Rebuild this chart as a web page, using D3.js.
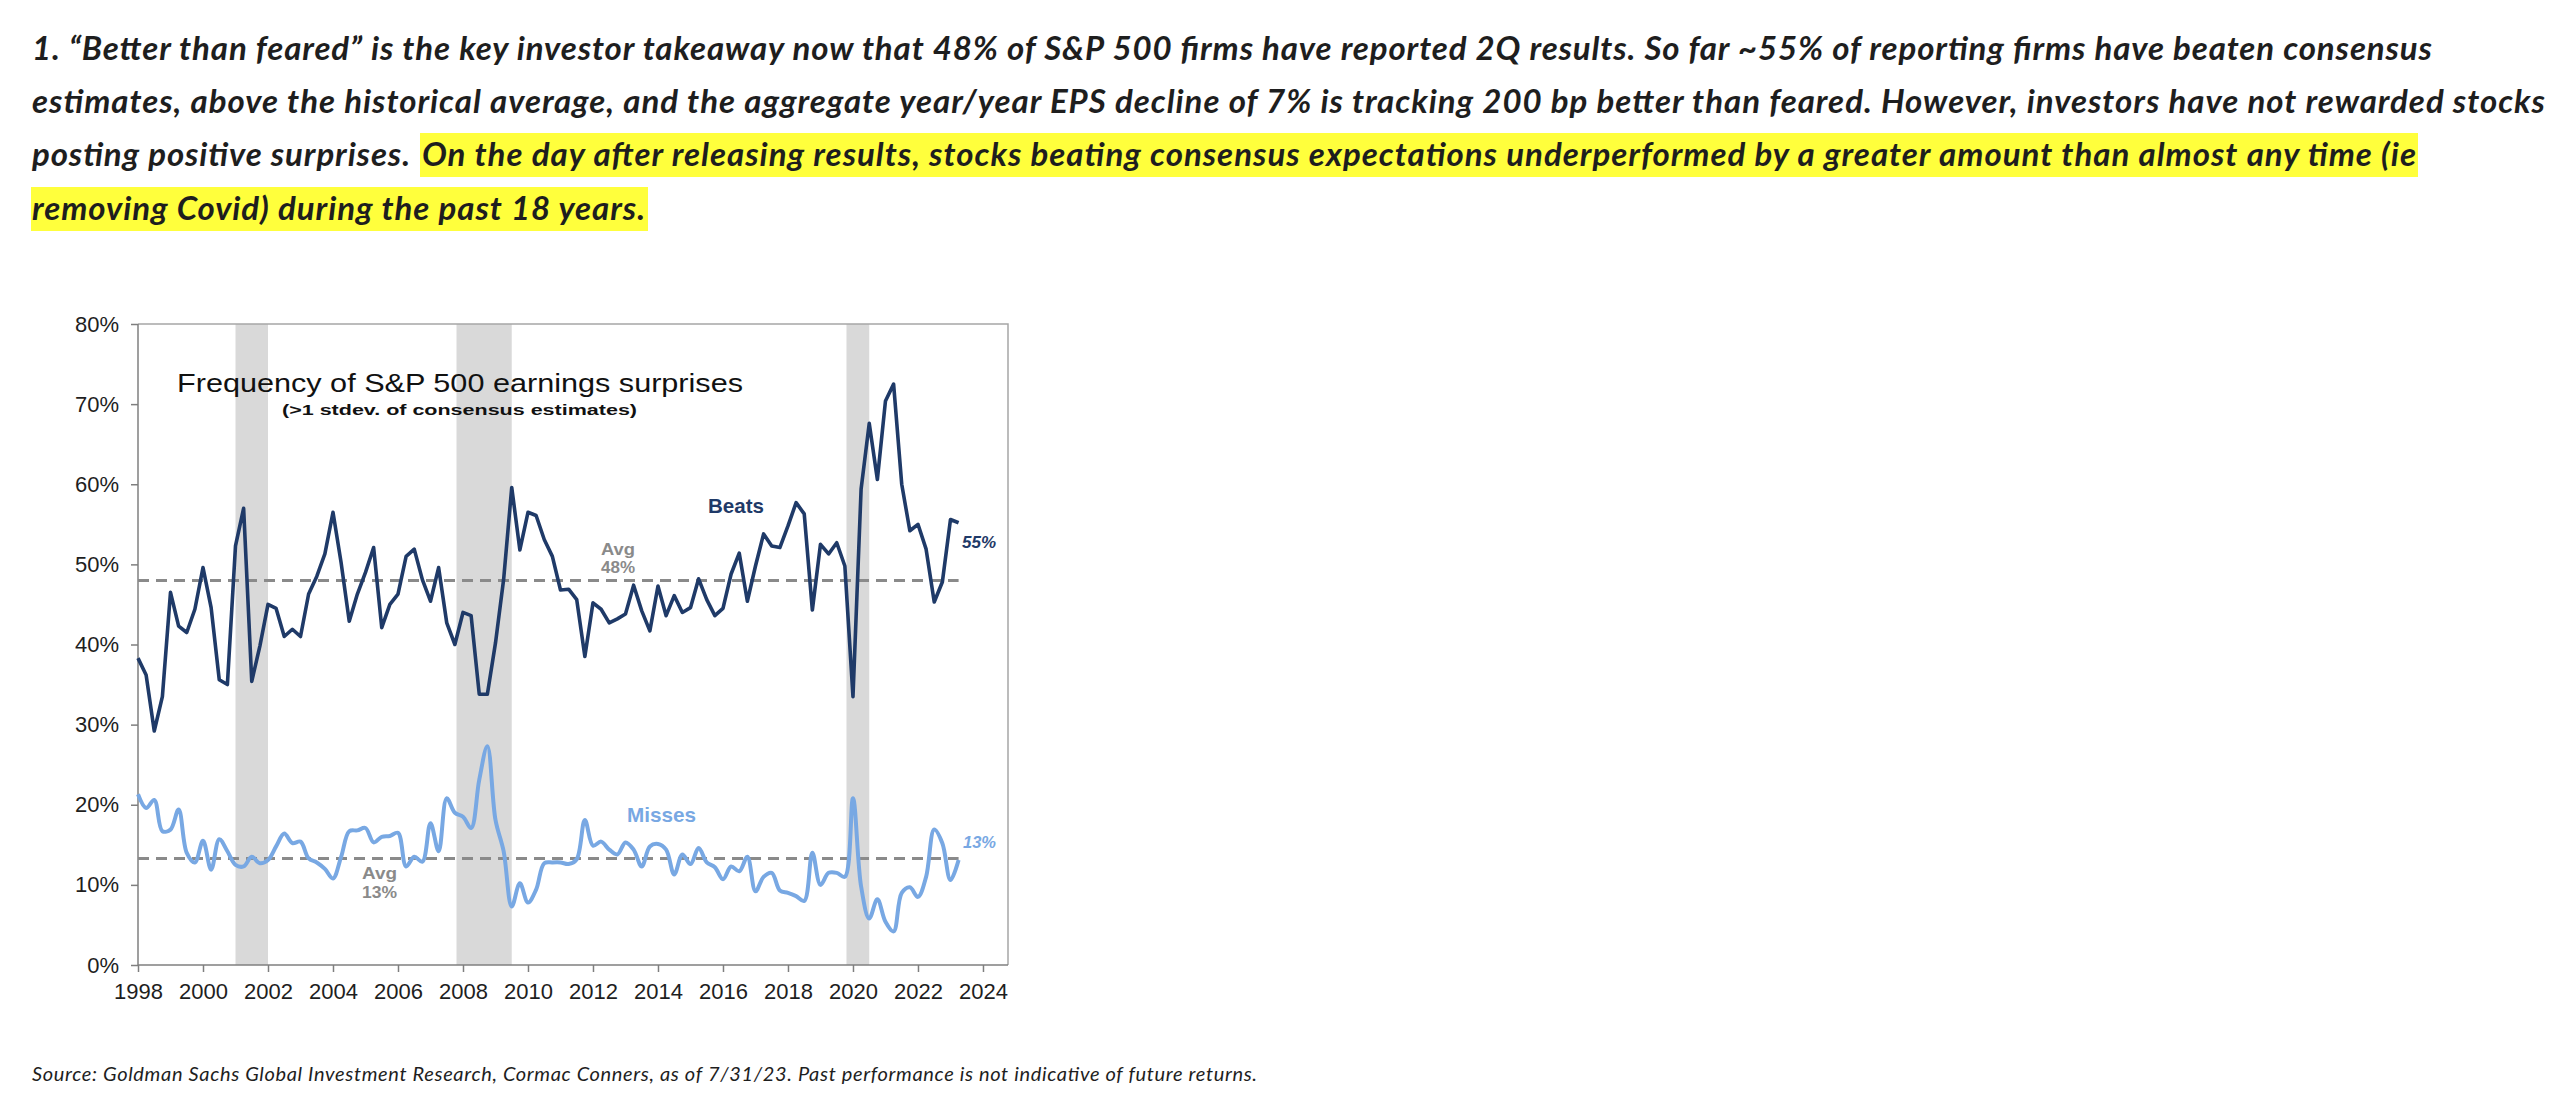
<!DOCTYPE html>
<html>
<head>
<meta charset="utf-8">
<script src="https://cdn.jsdelivr.net/npm/d3@7"></script>
<style>
  body { margin: 0; background: #fff; }
  svg { display: block; }
</style>
</head>
<body>
<div id="chart-area"></div>
<script>
// Frequency of S&P 500 earnings surprises, quarterly 1Q98 - 2Q23 (%)
var beats = [
    38.3, 36.2, 29.2, 33.5, 46.5, 42.3, 41.5, 44.4, 49.6, 44.6,
    35.6, 35.0, 52.3, 57.0, 35.4, 39.8, 45.0, 44.5, 41.0, 41.9,
    41.0, 46.3, 48.5, 51.3, 56.5, 50.2, 42.9, 46.3, 49.0, 52.1,
    42.1, 45.0, 46.3, 51.0, 51.9, 48.1, 45.4, 49.6, 42.7, 40.0,
    44.0, 43.6, 33.8, 33.8, 40.2, 48.1, 59.6, 51.8, 56.5, 56.1,
    53.1, 51.0, 46.8, 46.9, 45.6, 38.5, 45.2, 44.4, 42.7, 43.2,
    43.8, 47.4, 44.2, 41.7, 47.3, 43.6, 46.1, 44.0, 44.6, 48.2,
    45.6, 43.6, 44.5, 48.8, 51.4, 45.4, 49.8, 53.8, 52.3, 52.1,
    54.8, 57.7, 56.3, 44.3, 52.5, 51.3, 52.7, 49.8, 33.5, 59.4,
    67.6, 60.6, 70.4, 72.5, 60.0, 54.2, 55.0, 51.9, 45.3, 47.8,
    55.6, 55.2
];

var misses = [
    21.3, 19.6, 20.6, 16.7, 16.9, 19.4, 14.0, 12.8, 15.5, 11.9,
    15.7, 14.2, 12.5, 12.3, 13.5, 12.7, 13.1, 14.8, 16.4, 15.2,
    15.4, 13.3, 12.8, 12.0, 10.8, 13.5, 16.7, 16.8, 17.1, 15.3,
    16.0, 16.1, 16.5, 12.3, 13.5, 12.9, 17.7, 14.2, 20.8, 19.0,
    18.5, 17.1, 23.1, 27.3, 18.1, 14.2, 7.3, 10.2, 7.8, 9.4,
    12.7, 12.8, 12.8, 12.6, 13.2, 18.1, 14.9, 15.4, 14.4, 13.8,
    15.3, 14.4, 12.3, 14.8, 15.1, 14.4, 11.3, 13.8, 12.6, 14.6,
    12.8, 12.2, 10.7, 12.3, 11.7, 13.5, 9.2, 11.0, 11.5, 9.3,
    9.0, 8.6, 8.0, 14.0, 10.0, 11.5, 11.5, 11.0, 20.8, 9.8,
    5.8, 8.2, 5.4, 4.2, 9.0, 9.7, 8.5, 11.0, 16.9, 15.2,
    10.6, 13.1
];

var firstYear = 1998;
var quarters = beats.map(function(d, i){ return firstYear + i / 4; });

var beatsAvg = 48.0;
var missesAvg = 13.3;

// recession shading (start, end) in years
var recessions = [[2001.0, 2002.0], [2007.8, 2009.5], [2019.8, 2020.5]];

var yTicks = [0, 10, 20, 30, 40, 50, 60, 70, 80];
var xTicks = [1998, 2000, 2002, 2004, 2006, 2008, 2010, 2012, 2014, 2016, 2018, 2020, 2022, 2024];

var headerText = [
    "1. \u201cBetter than feared\u201d is the key investor takeaway now that 48% of S&P 500 firms have reported 2Q results. So far ~55% of reporting firms have beaten consensus",
    "estimates, above the historical average, and the aggregate year/year EPS decline of 7% is tracking 200 bp better than feared. However, investors have not rewarded stocks",
    "posting positive surprises.",
    "On the day after releasing results, stocks beating consensus expectations underperformed by a greater amount than almost any time (ie",
    "removing Covid) during the past 18 years."
];
var sourceText = "Source: Goldman Sachs Global Investment Research, Cormac Conners, as of 7/31/23. Past performance is not indicative of future returns.";

var navy = "#1f3a68",
    lightBlue = "#78a8e3",
    avgGrey = "#8a8a8a";

var svg = d3.select("#chart-area")
    .append("svg")
    .attr("width", 2572)
    .attr("height", 1120);

// Header paragraph
var header = svg.append("g")
    .attr("font-family", "Lato, 'Open Sans', sans-serif")
    .attr("font-weight", "bold")
    .attr("font-style", "italic")
    .attr("font-size", "33px")
    .attr("fill", "#1e1e1e");

// highlights
header.append("rect").attr("x", 420).attr("y", 133).attr("width", 1998).attr("height", 44).attr("fill", "#ffff3c");
header.append("rect").attr("x", 31).attr("y", 187).attr("width", 617).attr("height", 44).attr("fill", "#ffff3c");

var headerLayout = [
    { x: 32, y: 60, w: 2400 },
    { x: 32, y: 113, w: 2513 },
    { x: 32, y: 166, w: 378 },
    { x: 422, y: 166, w: 1994 },
    { x: 32, y: 220, w: 613 }
];
headerText.forEach(function(t, i){
    var l = headerLayout[i];
    header.append("text")
        .attr("x", l.x)
        .attr("y", l.y)
        .attr("textLength", l.w)
        .attr("lengthAdjust", "spacing")
        .text(t);
});

// Source
svg.append("text")
    .attr("x", 32)
    .attr("y", 1081)
    .attr("font-family", "Lato, 'Open Sans', sans-serif")
    .attr("font-style", "italic")
    .attr("font-size", "20px")
    .attr("fill", "#1e1e1e")
    .attr("textLength", 1225)
    .attr("lengthAdjust", "spacing")
    .text(sourceText);

// Chart
var plotLeft = 138, plotRight = 1008, plotTop = 324, plotBottom = 965;

var x = d3.scaleLinear()
    .domain([1998, 2024.77])
    .range([plotLeft, plotRight]);

var y = d3.scaleLinear()
    .domain([0, 80])
    .range([plotBottom, plotTop]);

var g = svg.append("g");

// recession bars
g.selectAll("rect.rec")
    .data(recessions)
    .enter()
    .append("rect")
    .attr("class", "rec")
    .attr("x", function(d){ return x(d[0]); })
    .attr("y", y(80))
    .attr("width", function(d){ return x(d[1]) - x(d[0]); })
    .attr("height", y(0) - y(80))
    .attr("fill", "#d9d9d9");

// frame top / right
g.append("path")
    .attr("d", "M" + x(1998) + "," + y(80) + "H" + x(2024.77) + "V" + y(0))
    .attr("fill", "none")
    .attr("stroke", "#a6a6a6")
    .attr("stroke-width", 1.5);

// Y Axis
var yAxisCall = d3.axisLeft(y)
    .tickValues(yTicks)
    .tickSize(7)
    .tickPadding(12)
    .tickFormat(function(d){ return d + "%"; });

var yAxis = g.append("g")
    .attr("class", "y axis")
    .attr("transform", "translate(" + plotLeft + ",0)")
    .call(yAxisCall);

// X Axis
var xAxisCall = d3.axisBottom(x)
    .tickValues(xTicks)
    .tickSize(7)
    .tickPadding(11)
    .tickFormat(d3.format("d"));

var xAxis = g.append("g")
    .attr("class", "x axis")
    .attr("transform", "translate(0," + plotBottom + ")")
    .call(xAxisCall);

[xAxis, yAxis].forEach(function(a){
    a.selectAll("path, line").attr("stroke", "#7f7f7f").attr("stroke-width", 1.5);
    a.selectAll("text")
        .attr("font-family", "'Liberation Sans', Arial, sans-serif")
        .attr("font-size", "22px")
        .attr("fill", "#1e1e1e");
});
xAxis.select(".domain").attr("d", "M" + plotLeft + ",0H" + plotRight);
yAxis.select(".domain").attr("d", "M0," + plotBottom + "V" + plotTop);

// average lines
g.selectAll("line.avg")
    .data([beatsAvg, missesAvg])
    .enter()
    .append("line")
    .attr("class", "avg")
    .attr("x1", x(1998))
    .attr("x2", x(2023.25))
    .attr("y1", function(d){ return y(d); })
    .attr("y2", function(d){ return y(d); })
    .attr("stroke", avgGrey)
    .attr("stroke-width", 3)
    .attr("stroke-dasharray", "11,7");

// Misses line (smoothed)
var missLine = d3.line()
    .x(function(d, i){ return x(quarters[i]); })
    .y(function(d){ return y(d); })
    .curve(d3.curveCatmullRom.alpha(0.5));

g.append("path")
    .datum(misses)
    .attr("d", missLine)
    .attr("fill", "none")
    .attr("stroke", lightBlue)
    .attr("stroke-width", 4)
    .attr("stroke-linejoin", "round");

// Beats line
var beatLine = d3.line()
    .x(function(d, i){ return x(quarters[i]); })
    .y(function(d){ return y(d); });

g.append("path")
    .datum(beats)
    .attr("d", beatLine)
    .attr("fill", "none")
    .attr("stroke", navy)
    .attr("stroke-width", 3.6)
    .attr("stroke-linejoin", "round");

// Labels inside chart
var labels = [
    { t: "Frequency of S&P 500 earnings surprises", x: 177, y: 392, w: 566, size: 25, weight: "normal", style: "normal", fill: "#111" },
    { t: "(>1 stdev. of consensus estimates)", x: 282, y: 415, w: 355, size: 15, weight: "bold", style: "normal", fill: "#111" },
    { t: "Beats", x: 708, y: 513, w: 56, size: 21, weight: "bold", style: "normal", fill: navy },
    { t: "55%", x: 962, y: 548, w: 34, size: 17, weight: "bold", style: "italic", fill: navy },
    { t: "Avg", x: 601, y: 555, w: 34, size: 17, weight: "bold", style: "normal", fill: avgGrey },
    { t: "48%", x: 601, y: 573, w: 34, size: 17, weight: "bold", style: "normal", fill: avgGrey },
    { t: "Misses", x: 627, y: 822, w: 69, size: 21, weight: "bold", style: "normal", fill: lightBlue },
    { t: "13%", x: 963, y: 848, w: 33, size: 17, weight: "bold", style: "italic", fill: lightBlue },
    { t: "Avg", x: 362, y: 879, w: 35, size: 17, weight: "bold", style: "normal", fill: avgGrey },
    { t: "13%", x: 362, y: 898, w: 35, size: 17, weight: "bold", style: "normal", fill: avgGrey }
];

g.selectAll("text.lbl")
    .data(labels)
    .enter()
    .append("text")
    .attr("class", "lbl")
    .attr("x", function(d){ return d.x; })
    .attr("y", function(d){ return d.y; })
    .attr("textLength", function(d){ return d.w; })
    .attr("lengthAdjust", "spacingAndGlyphs")
    .attr("font-family", "'Liberation Sans', Arial, sans-serif")
    .attr("font-size", function(d){ return d.size + "px"; })
    .attr("font-weight", function(d){ return d.weight; })
    .attr("font-style", function(d){ return d.style; })
    .attr("fill", function(d){ return d.fill; })
    .text(function(d){ return d.t; });
</script>
</body>
</html>
